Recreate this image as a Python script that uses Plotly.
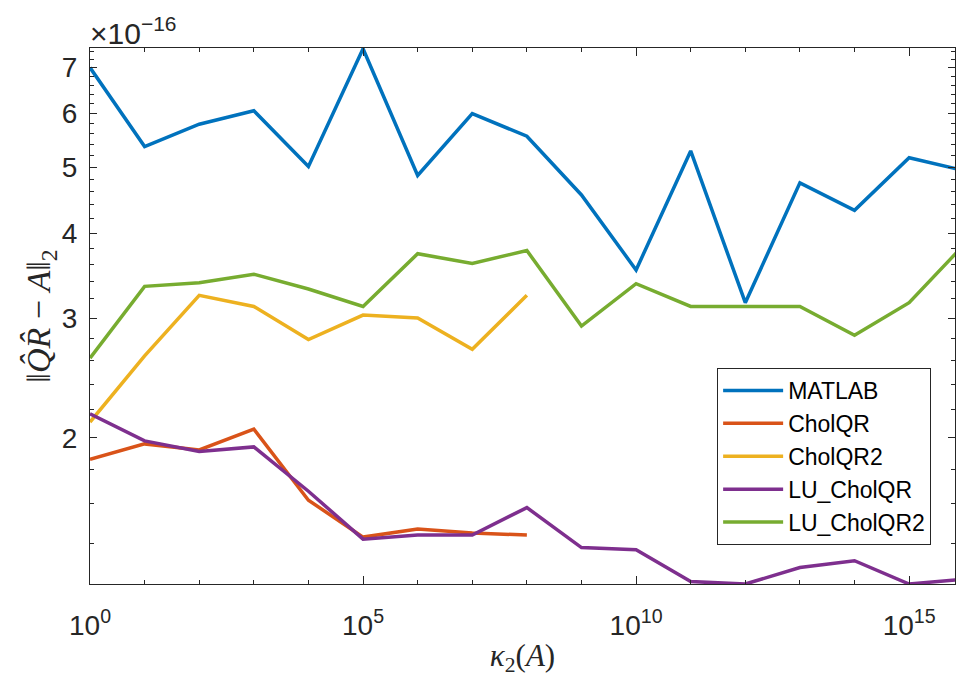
import plotly.graph_objects as go

# condition numbers 10^0 .. 10^16
kappa_exp = list(range(0, 17))
kappa = [10.0 ** k for k in kappa_exp]

# errors in units of 1e-16
matlab = [7.00, 5.36, 5.78, 6.05, 5.01, 7.46, 4.86, 5.99, 5.55, 4.55, 3.53, 5.28, 3.16, 4.74, 4.32, 5.16, 4.94]
cholqr = [1.86, 1.96, 1.92, 2.06, 1.62, 1.43, 1.47, 1.45, 1.44]
cholqr2 = [2.11, 2.64, 3.24, 3.12, 2.79, 3.03, 3.00, 2.70, 3.24]
lu_cholqr = [2.17, 1.98, 1.91, 1.94, 1.67, 1.42, 1.44, 1.44, 1.58, 1.38, 1.37, 1.23, 1.22, 1.29, 1.32, 1.22, 1.24]
lu_cholqr2 = [2.62, 3.34, 3.38, 3.48, 3.31, 3.12, 3.73, 3.61, 3.77, 2.92, 3.37, 3.12, 3.12, 3.12, 2.83, 3.16, 3.84]

series = [
    ("MATLAB", matlab, "#0072BD"),
    ("CholQR", cholqr, "#D95319"),
    ("CholQR2", cholqr2, "#EDB120"),
    ("LU_CholQR", lu_cholqr, "#7E2F8E"),
    ("LU_CholQR2", lu_cholqr2, "#77AC30"),
]

x_major = [1e0, 1e5, 1e10, 1e15]
x_major_text = ["10<sup>0</sup>", "10<sup>5</sup>", "10<sup>10</sup>", "10<sup>15</sup>"]
x_minor = [10.0 ** k for k in range(1, 17) if k % 5 != 0]
y_major = [2, 3, 4, 5, 6, 7]
y_minor = [1.4, 1.6, 1.8, 2.2, 2.4, 2.6, 2.8, 3.2, 3.4, 3.6, 3.8, 4.2, 4.4, 4.6, 4.8,
           5.2, 5.4, 5.6, 5.8, 6.2, 6.4, 6.6, 6.8, 7.2, 7.4]

AX = "#262626"
SANS = "Liberation Sans, Arial, sans-serif"
SERIF = "Liberation Serif, Times New Roman, serif"

fig = go.Figure()
for name, vals, color in series:
    fig.add_trace(go.Scatter(
        x=kappa[:len(vals)], y=vals, mode="lines", name=name,
        line=dict(color=color, width=3.5),
    ))

fig.update_layout(
    width=956, height=679,
    margin=dict(l=90, r=1, t=48, b=95),
    paper_bgcolor="white", plot_bgcolor="white",
    font=dict(family=SANS, color=AX, size=26),
    showlegend=True,
    legend=dict(
        x=0.725, y=0.403, xanchor="left", yanchor="top",
        bgcolor="white", bordercolor=AX, borderwidth=1,
        font=dict(family=SANS, size=23, color="black"),
        itemwidth=60, tracegroupgap=0,
    ),
    xaxis=dict(
        type="log", range=[0, 15.84],
        tickmode="array", tickvals=x_major, ticktext=x_major_text,
        ticks="inside", ticklen=8, tickwidth=1, tickcolor=AX,
        showline=True, linecolor=AX, linewidth=1, mirror="ticks",
        showgrid=False, zeroline=False,
        minor=dict(tickmode="array", tickvals=x_minor, ticks="inside", ticklen=4, tickcolor=AX, showgrid=False),
        tickfont=dict(family=SANS, size=28, color=AX),
        ticklabelstandoff=16,
        title=dict(text="<i>κ</i><sub>2</sub>(<i>A</i>)", font=dict(family=SERIF, size=31, color=AX), standoff=4),
    ),
    yaxis=dict(
        type="log", range=[0.0864, 0.8739],
        tickmode="array", tickvals=y_major, ticktext=[str(v) for v in y_major],
        ticks="inside", ticklen=7, tickwidth=1, tickcolor=AX,
        showline=True, linecolor=AX, linewidth=1, mirror="ticks",
        showgrid=False, zeroline=False,
        minor=dict(tickmode="array", tickvals=y_minor, ticks="inside", ticklen=4, tickcolor=AX, showgrid=False),
        tickfont=dict(family=SANS, size=28, color=AX),
        ticklabelstandoff=6,
        title=dict(text="‖<i>Q̂R̂</i> − <i>A</i>‖<sub>2</sub>", font=dict(family=SERIF, size=34, color=AX), standoff=0),
    ),
    annotations=[dict(
        xref="paper", yref="paper", x=0, y=1, xanchor="left", yanchor="bottom",
        text="×10<sup>−16</sup>", showarrow=False, font=dict(family=SANS, size=30, color=AX),
        xshift=-2, yshift=-4,
    )],
)

fig.write_html("out.html")
